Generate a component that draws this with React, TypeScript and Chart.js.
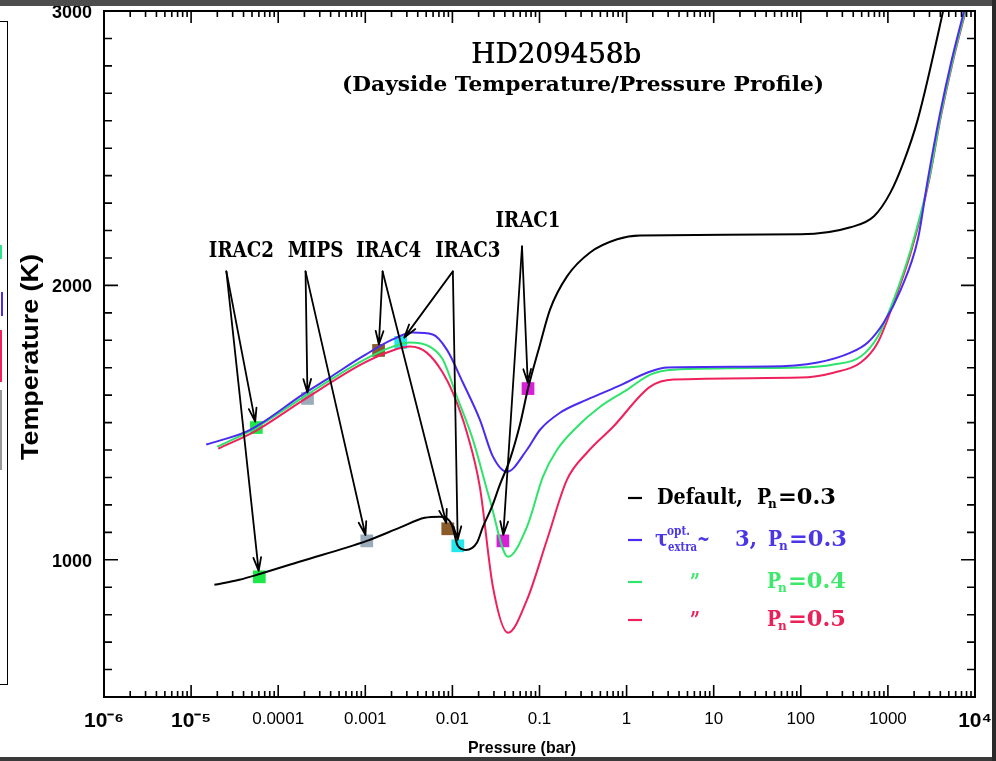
import React, { useEffect, useRef } from "react";
import { Chart, registerables } from "chart.js";

Chart.register(...registerables);

// ---------- axis ticks ----------
const xTickValues = [1e-6, 1e-5, 1e-4, 1e-3, 1e-2, 1e-1, 1, 10, 100, 1000, 1e4];
const xTickLabels = ["10⁻⁶", "10⁻⁵", "0.0001", "0.001", "0.01", "0.1", "1", "10", "100", "1000", "10⁴"];
const yTickValues = [1000, 2000, 3000];
const yTickLabels = ["1000", "2000", "3000"];

// ---------- profiles (pressure in bar, temperature in K) ----------
const pressureDefault = [1.85e-5, 3.57e-5, 6.24e-5, 1.75e-4, 1.04e-3, 2.48e-3, 4.81e-3, 7.16e-3, 9.84e-3, 0.01153, 0.01426, 0.0191, 0.0224, 0.0284, 0.0351, 0.0457, 0.0597, 0.0738, 0.1014, 0.132, 0.207, 0.381, 0.78, 1.43, 100, 372, 692, 1072, 1514, 2208, 4276, 5012];
const tempDefault = [909, 927, 949, 993, 1069, 1117, 1153, 1157, 1128, 1051, 1036, 1062, 1120, 1193, 1274, 1365, 1493, 1624, 1785, 1912, 2033, 2120, 2168, 2182, 2186, 2212, 2252, 2339, 2449, 2606, 2996, 3100];

const pressureTauPn03 = [1.49e-5, 4.31e-5, 6.58e-5, 1.9e-4, 3.88e-4, 9.31e-4, 2.06e-3, 3.5e-3, 5.94e-3, 8.63e-3, 0.01318, 0.02065, 0.0292, 0.0423, 0.0718, 0.1014, 0.172, 0.352, 0.78, 1.87, 2.93, 41.5, 156, 374, 587, 897, 1406, 2208, 2877, 3954, 5433, 7870];
const tempTauPn03 = [1420, 1467, 1500, 1602, 1664, 1741, 1803, 1828, 1821, 1766, 1646, 1511, 1376, 1321, 1401, 1474, 1536, 1584, 1631, 1686, 1701, 1704, 1719, 1755, 1792, 1865, 1985, 2168, 2387, 2624, 2825, 3026];

const pressureTauPn04 = [2.0e-5, 5.61e-5, 1.9e-4, 9.31e-4, 2.06e-3, 3.24e-3, 5.5e-3, 7.76e-3, 0.01125, 0.01718, 0.0269, 0.0435, 0.0718, 0.1096, 0.159, 0.27, 0.497, 1.016, 1.87, 3.44, 99.5, 238, 488, 766, 1169, 1832, 2958, 4064, 5585, 8091];
const tempTauPn04 = [1412, 1482, 1591, 1726, 1777, 1792, 1777, 1730, 1595, 1438, 1219, 1011, 1120, 1303, 1401, 1485, 1558, 1620, 1675, 1693, 1701, 1712, 1741, 1814, 1949, 2131, 2387, 2624, 2825, 3026];

const pressureTauPn05 = [2.05e-5, 5.61e-5, 1.9e-4, 9.31e-4, 2.06e-3, 3.24e-3, 5.07e-3, 7.76e-3, 0.01012, 0.01466, 0.02065, 0.0292, 0.0435, 0.0718, 0.122, 0.207, 0.352, 0.701, 1.87, 3.44, 99.5, 238, 488, 766, 1169, 1832, 2958, 4064, 5585, 8091];
const tempTauPn05 = [1405, 1471, 1580, 1715, 1763, 1777, 1755, 1682, 1609, 1464, 1266, 901, 734, 854, 1073, 1292, 1391, 1485, 1631, 1657, 1664, 1682, 1719, 1792, 1938, 2120, 2380, 2617, 2818, 3018];

// ---------- Spitzer band markers ----------
const bandNames = ["IRAC2", "MIPS", "IRAC4", "IRAC3", "IRAC1"];
const bandColors = ["#1fe84a", "#9aabb9", "#8a5a28", "#22e8ee", "#d820d8"];
const bandPressureUpper = [5.61e-5, 2.17e-4, 1.42e-3, 2.55e-3, 0.038];
const bandTempUpper = [1482, 1588, 1763, 1792, 1069];
const bandPressureLower = [6.07e-5, 1.04e-3, 8.85e-3, 0.01153, 0.0738];
const bandTempLower = [938, 1069, 1113, 1051, 1624];
const labelPressure = [3.78e-5, 2.68e-4, 1.85e-3, 0.01503, 0.0738];
const labelTemp = [2125, 2125, 2125, 2125, 2232];
const apexPressure = [2.54e-5, 2.06e-4, 1.58e-3, 0.01012, 0.063];
const apexTemp = [2051, 2051, 2051, 2051, 2142];

// ---------- series styling ----------
const seriesColors = ["#000000", "#4a2cf0", "#2ee46a", "#f0205c"];
const legendTextColors = ["#000000", "#4a36e6", "#3ee86c", "#ea2058"];

const pts = (p: number[], t: number[]) => p.map((v, i) => ({ x: v, y: t[i] }));

function drawText(
  ctx: CanvasRenderingContext2D,
  text: string,
  x: number,
  y: number,
  font: string,
  color: string,
  opts: { width?: number; squeeze?: number; align?: "left" | "center" | "right" } = {}
) {
  ctx.save();
  ctx.font = font;
  ctx.fillStyle = color;
  ctx.textBaseline = "middle";
  ctx.textAlign = "left";
  const w = ctx.measureText(text).width;
  const s = opts.width ? opts.width / w : opts.squeeze ?? 1;
  const align = opts.align ?? "left";
  const x0 = align === "center" ? x - (w * s) / 2 : align === "right" ? x - w * s : x;
  ctx.translate(x0, y);
  ctx.scale(s, 1);
  ctx.fillText(text, 0, 0);
  ctx.restore();
}

function arrow(ctx: CanvasRenderingContext2D, x1: number, y1: number, x2: number, y2: number) {
  const dx = x2 - x1, dy = y2 - y1;
  const len = Math.hypot(dx, dy);
  const ux = dx / len, uy = dy / len;
  const ex = x2 - ux * 6, ey = y2 - uy * 6;
  ctx.beginPath();
  ctx.moveTo(x1, y1);
  ctx.lineTo(ex, ey);
  const ang = Math.atan2(uy, ux);
  const h = 14, a = 0.28;
  ctx.moveTo(ex, ey);
  ctx.lineTo(ex - h * Math.cos(ang - a), ey - h * Math.sin(ang - a));
  ctx.moveTo(ex, ey);
  ctx.lineTo(ex - h * Math.cos(ang + a), ey - h * Math.sin(ang + a));
  ctx.stroke();
}

const SERIF = "'DejaVu Serif', serif";
const SANS = "'Liberation Sans', Arial, sans-serif";

const decorPlugin = {
  id: "decor",
  afterDatasetsDraw(chart: any) {
    const { ctx, chartArea: a, scales } = chart;
    const x = scales.x, y = scales.y;
    ctx.save();
    ctx.beginPath();
    ctx.rect(a.left, a.top, a.right - a.left, a.bottom - a.top);
    ctx.clip();
    ctx.strokeStyle = "#000";
    ctx.lineWidth = 1.8;
    ctx.lineCap = "round";
    for (let i = 0; i < bandNames.length; i++) {
      const ax = x.getPixelForValue(apexPressure[i]);
      const ay = y.getPixelForValue(apexTemp[i]);
      arrow(ctx, ax, ay, x.getPixelForValue(bandPressureUpper[i]), y.getPixelForValue(bandTempUpper[i]));
      arrow(ctx, ax, ay, x.getPixelForValue(bandPressureLower[i]), y.getPixelForValue(bandTempLower[i]));
    }
    ctx.restore();

    // frame and inner tick marks
    ctx.save();
    ctx.strokeStyle = "#000";
    ctx.lineWidth = 2;
    ctx.strokeRect(a.left, a.top, a.right - a.left, a.bottom - a.top);
    ctx.lineWidth = 1.6;
    ctx.beginPath();
    for (let d = -6; d < 4; d++) {
      for (let m = 1; m < 10; m++) {
        const px = x.getPixelForValue(m * Math.pow(10, d));
        const len = m === 1 ? 12 : 6;
        ctx.moveTo(px, a.bottom);
        ctx.lineTo(px, a.bottom - len);
        ctx.moveTo(px, a.top);
        ctx.lineTo(px, a.top + len);
      }
    }
    for (let t = 500; t <= 3000; t += 100) {
      const py = y.getPixelForValue(t);
      const len = t % 1000 === 0 ? 14 : 8;
      ctx.moveTo(a.left, py);
      ctx.lineTo(a.left + len, py);
      ctx.moveTo(a.right, py);
      ctx.lineTo(a.right - len, py);
    }
    ctx.stroke();
    ctx.restore();
  },
  afterDraw(chart: any) {
    const { ctx, scales } = chart;
    const x = scales.x, y = scales.y;

    // titles
    drawText(ctx, "HD209458b", 556, 56, `28px ${SERIF}`, "#000", { width: 170, align: "center" });
    drawText(ctx, "HD209458b", 556.6, 56, `28px ${SERIF}`, "#000", { width: 170, align: "center" });
    drawText(ctx, "(Dayside Temperature/Pressure Profile)", 583, 86, `bold 21px ${SERIF}`, "#000", { width: 482, align: "center" });

    // axis titles
    drawText(ctx, "Pressure (bar)", 522, 748, `bold 17px ${SANS}`, "#000", { width: 108, align: "center" });
    ctx.save();
    ctx.translate(31, 357);
    ctx.rotate(-Math.PI / 2);
    drawText(ctx, "Temperature (K)", 0, 0, `bold 24px ${SANS}`, "#000", { width: 206, align: "center" });
    ctx.restore();

    // band labels
    for (let i = 0; i < bandNames.length; i++) {
      drawText(ctx, bandNames[i], x.getPixelForValue(labelPressure[i]), y.getPixelForValue(labelTemp[i]),
        `bold 22px ${SERIF}`, "#000", { squeeze: 0.83, align: "center" });
    }

    // legend
    const rows = [498, 540, 582, 620];
    const F = `bold 22px ${SERIF}`;
    const FS = `bold 12px ${SERIF}`;
    const legendValues = ["=0.3", "=0.3", "=0.4", "=0.5"];
    const pX = [757, 768, 767, 767];
    ctx.save();
    ctx.lineWidth = 2.2;
    rows.forEach((ry, i) => {
      const c = legendTextColors[i];
      ctx.strokeStyle = seriesColors[i];
      ctx.beginPath();
      ctx.moveTo(628, ry);
      ctx.lineTo(642, ry);
      ctx.stroke();
      if (i === 0) {
        drawText(ctx, "Default,", 657, ry, F, c, { width: 86 });
      } else if (i === 1) {
        drawText(ctx, "τ", 655, ry, F, c, { width: 13 });
        drawText(ctx, "opt.", 667, ry - 8, FS, c, { width: 23 });
        drawText(ctx, "extra", 668, ry + 8, FS, c, { width: 29 });
        drawText(ctx, "~", 697, ry, F, c, { width: 13 });
        drawText(ctx, "3,", 735, ry, F, c, { width: 22 });
      } else {
        drawText(ctx, "\u201D", 690, ry + 1, F, c, { width: 10 });
      }
      drawText(ctx, "P", pX[i], ry, F, c, { squeeze: 0.85 });
      drawText(ctx, "n", pX[i] + 11, ry + 7, FS, c, { squeeze: 1 });
      drawText(ctx, legendValues[i], pX[i] + 21, ry, F, c, { width: 58 });
    });
    ctx.restore();
  },
};

export default function App() {
  const ref = useRef<HTMLCanvasElement | null>(null);
  useEffect(() => {
    if (!ref.current) return;
    const lineDs = (label: string, p: number[], t: number[], color: string) => ({
      type: "line" as const,
      label,
      data: pts(p, t),
      borderColor: color,
      borderWidth: 2,
      pointRadius: 0,
      fill: false,
      cubicInterpolationMode: "monotone" as const,
    });
    const markerDs = (label: string, p: number[], t: number[]) => ({
      type: "scatter" as const,
      label,
      data: pts(p, t),
      pointStyle: "rect",
      pointRadius: 9,
      pointBackgroundColor: bandColors,
      pointBorderWidth: 0,
      showLine: false,
    });
    const chart = new Chart(ref.current, {
      type: "line",
      data: {
        datasets: [
          lineDs("Default, Pn=0.3", pressureDefault, tempDefault, seriesColors[0]),
          lineDs("tau_extra ~ 3, Pn=0.3", pressureTauPn03, tempTauPn03, seriesColors[1]),
          lineDs("Pn=0.4", pressureTauPn04, tempTauPn04, seriesColors[2]),
          lineDs("Pn=0.5", pressureTauPn05, tempTauPn05, seriesColors[3]),
          markerDs("bands (upper)", bandPressureUpper, bandTempUpper),
          markerDs("bands (lower)", bandPressureLower, bandTempLower),
        ] as any,
      },
      options: {
        animation: false,
        responsive: false,
        maintainAspectRatio: false,
        layout: { autoPadding: false, padding: { left: 0, top: 11, right: 21, bottom: 0 } },
        scales: {
          x: {
            type: "logarithmic",
            min: 1e-6,
            max: 1e4,
            afterBuildTicks: (s: any) => {
              s.ticks = xTickValues.map((v) => ({ value: v }));
            },
            afterFit: (s: any) => {
              s.height = 64;
              s.paddingLeft = 0;
              s.paddingRight = 0;
              s.paddingTop = 0;
              s.paddingBottom = 0;
            },
            ticks: {
              autoSkip: false,
              maxRotation: 0,
              minRotation: 0,
              padding: 12,
              color: "#000",
              font: (c: any) => {
                const idx = xTickValues.indexOf(c.tick?.value);
                const lab = xTickLabels[idx] || "";
                return lab.startsWith("10⁻") || lab === "10⁴"
                  ? { family: SANS, size: 21, weight: "bold" }
                  : { family: SANS, size: 17, weight: "normal" };
              },
              callback: (v: any) => {
                const idx = xTickValues.indexOf(Number(v));
                return idx >= 0 ? xTickLabels[idx] : "";
              },
            },
            grid: { display: false, drawTicks: false },
            border: { display: false },
          },
          y: {
            type: "linear",
            min: 500,
            max: 3000,
            afterBuildTicks: (s: any) => {
              s.ticks = yTickValues.map((v) => ({ value: v }));
            },
            afterFit: (s: any) => {
              s.width = 104;
              s.paddingLeft = 0;
              s.paddingRight = 0;
              s.paddingTop = 0;
              s.paddingBottom = 0;
            },
            ticks: {
              padding: 12,
              labelOffset: 2,
              color: "#000",
              font: { family: SANS, size: 18, weight: "bold" },
              callback: (v: any) => {
                const idx = yTickValues.indexOf(Number(v));
                return idx >= 0 ? yTickLabels[idx] : "";
              },
            },
            grid: { display: false, drawTicks: false },
            border: { display: false },
          },
        },
        plugins: {
          legend: { display: false },
          tooltip: { enabled: false },
          title: { display: false },
        },
      } as any,
      plugins: [decorPlugin],
    });
    return () => chart.destroy();
  }, []);

  const box = (l: number, t: number, w: number, h: number, bg: string): React.CSSProperties => ({
    position: "absolute", left: l, top: t, width: w, height: h, background: bg,
  });

  return (
    <div style={{ position: "absolute", left: 0, top: 0, width: 996, height: 761, background: "#fff", overflow: "hidden" }}>
      {/* fragment of neighbouring panel */}
      <div style={{ position: "absolute", left: -10, top: 21, width: 16, height: 662, border: "1.5px solid #000" }} />
      <div style={box(0, 245, 2, 14, "#2ee48a")} />
      <div style={box(1, 292, 2, 24, "#4a2cf0")} />
      <div style={box(0, 330, 2, 52, "#f0205c")} />
      <div style={box(0, 390, 2, 80, "#999")} />
      <canvas ref={ref} width={996} height={761} style={{ position: "absolute", left: 0, top: 0, width: 996, height: 761 }} />
      <div style={box(0, 0, 996, 6, "#4d4d4d")} />
      <div style={box(0, 757, 996, 4, "#3a3a3a")} />
      <div style={box(992, 0, 4, 761, "#2a2a2a")} />
    </div>
  );
}
